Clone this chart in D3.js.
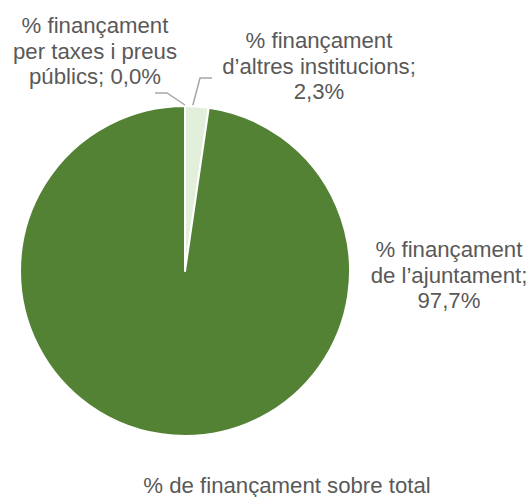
<!DOCTYPE html>
<html><head><meta charset="utf-8">
<script src="https://cdn.jsdelivr.net/npm/d3@7"></script>
<style>body{margin:0;background:#fff}svg{display:block}</style>
</head><body>
<svg id="c" width="531" height="497"></svg>
<script>
const categories = ["% finançament per taxes i preus públics", "% finançament d’altres institucions", "% finançament de l’ajuntament"];
const values = [0.0, 2.3, 97.7];
const valueLabels = ["0,0%", "2,3%", "97,7%"];
const colors = ["#a9d18e", "#e2efda", "#548235"];
const title = "% de finançament sobre total";

const svg = d3.select("#c");
const cx = 185, cy = 271, r = 165;
const pie = d3.pie().sort(null).value(d => d)(values);
const arc = d3.arc().innerRadius(0).outerRadius(r);
const g = svg.append("g").attr("transform", `translate(${cx},${cy})`);
g.selectAll("path").data(pie).join("path")
  .attr("d", arc).attr("fill", (d,i) => colors[i])
  .attr("stroke", "#fff").attr("stroke-width", 2).attr("stroke-linejoin","round");

const font = "Liberation Sans, Arial, sans-serif";
const fs = 22.2, lh = 25.5;
const labels = [
  {lines:["% finançament","per taxes i preus","públics; " + valueLabels[0]], x:95, y:33},
  {lines:["% finançament","d’altres institucions;", valueLabels[1]], x:319, y:48},
  {lines:["% finançament","de l’ajuntament;", valueLabels[2]], x:449, y:257}
];
labels.forEach(l => {
  const t = svg.append("text").attr("x", l.x).attr("y", l.y).attr("text-anchor","middle")
    .attr("font-family", font).attr("font-size", fs).attr("fill", "#595959");
  l.lines.forEach((s,i) => t.append("tspan").attr("x", l.x).attr("dy", i ? lh : 0).text(s));
});

// leader lines
function edgePoint(angle, rad) { return [cx + rad*Math.sin(angle), cy - rad*Math.cos(angle)]; }
const p0 = edgePoint((pie[0].startAngle + pie[0].endAngle)/2, r + 1);
const p1 = edgePoint((pie[1].startAngle + pie[1].endAngle)/2 - 0.025, r + 1);
svg.append("path").attr("d", d3.line()([[155,93],[167,93],p0]))
  .attr("fill","none").attr("stroke","#a6a6a6").attr("stroke-width",1.5);
svg.append("path").attr("d", d3.line()([[212,78],[200,78],p1]))
  .attr("fill","none").attr("stroke","#a6a6a6").attr("stroke-width",1.5);

svg.append("text").attr("x", 287).attr("y", 493).attr("text-anchor","middle")
  .attr("font-family", font).attr("font-size", fs).attr("fill", "#595959").text(title);
</script>
</body></html>
